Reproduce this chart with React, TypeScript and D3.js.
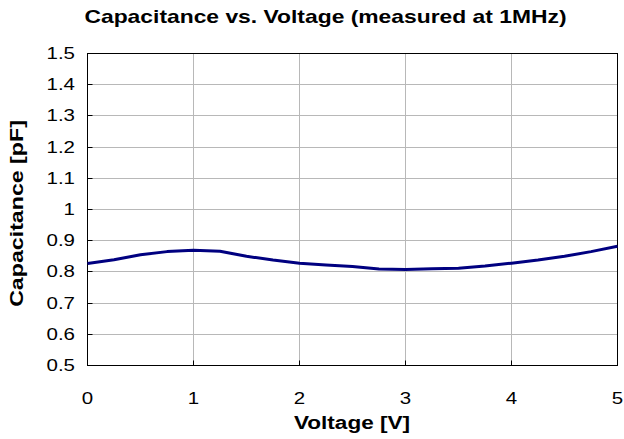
import React from "react";
import * as d3 from "d3";

const voltages = [0, 0.25, 0.5, 0.75, 1, 1.25, 1.5, 1.75, 2, 2.25, 2.5, 2.75, 3, 3.25, 3.5, 3.75, 4, 4.25, 4.5, 4.75, 5];
const capacitance = [
  0.827, 0.839, 0.855, 0.865, 0.869, 0.866, 0.85, 0.838, 0.828, 0.822, 0.817, 0.809, 0.808, 0.81, 0.812, 0.819,
  0.828, 0.838, 0.85, 0.865, 0.882,
];
const xTicks = [0, 1, 2, 3, 4, 5];
const yTicks = [0.5, 0.6, 0.7, 0.8, 0.9, 1, 1.1, 1.2, 1.3, 1.4, 1.5];

const W = 624;
const H = 439;
const font = "Arial, 'Liberation Sans', sans-serif";
const SX = 1.28; // reference text is drawn wide

const App = () => {
  const x = d3.scaleLinear().domain([0, 5]).range([87.5, 617.5]);
  const y = d3.scaleLinear().domain([0.5, 1.5]).range([365.5, 53.5]);
  const crisp = (v: number) => Math.round(v - 0.5) + 0.5;

  const line = d3
    .line<number>()
    .x((d, i) => x(voltages[i]))
    .y((d) => y(d))
    .curve(d3.curveLinear);

  const [x0, x1] = x.range();
  const [y0, y1] = y.range();

  return (
    <svg width={W} height={H} style={{ position: "absolute", left: 0, top: 0, background: "#fff" }}>
      <rect x={0} y={0} width={W} height={H} fill="#fff" />

      {/* grid */}
      {xTicks.slice(1, -1).map((t) => (
        <line key={"gx" + t} x1={crisp(x(t))} x2={crisp(x(t))} y1={y1} y2={y0} stroke="#b8b8b8" strokeWidth={1} />
      ))}
      {yTicks.slice(1, -1).map((t) => (
        <line key={"gy" + t} x1={x0} x2={x1} y1={crisp(y(t))} y2={crisp(y(t))} stroke="#b8b8b8" strokeWidth={1} />
      ))}

      {/* frame */}
      <rect x={x0} y={crisp(y1)} width={x1 - x0} height={crisp(y0) - crisp(y1)} fill="none" stroke="#000" strokeWidth={1} />

      {/* inner ticks */}
      {xTicks.map((t) => (
        <line key={"tx" + t} x1={crisp(x(t))} x2={crisp(x(t))} y1={crisp(y0)} y2={crisp(y0) - 5} stroke="#000" />
      ))}
      {yTicks.map((t) => (
        <line key={"ty" + t} x1={x0} x2={x0 + 5} y1={crisp(y(t))} y2={crisp(y(t))} stroke="#000" />
      ))}

      {/* series */}
      <path d={line(capacitance) || ""} fill="none" stroke="#000080" strokeWidth={3} strokeLinejoin="round" />

      {/* tick labels */}
      <g fontFamily={font} fontSize={16} fill="#000">
        {yTicks.map((t) => (
          <text key={"ly" + t} transform={`translate(75,${y(t) + 5.5}) scale(${SX},1)`} textAnchor="end">
            {d3.format("")(+t.toFixed(1))}
          </text>
        ))}
        {xTicks.map((t) => (
          <text key={"lx" + t} transform={`translate(${x(t)},404) scale(${SX},1)`} textAnchor="middle">
            {t}
          </text>
        ))}
      </g>

      {/* titles */}
      <g fontFamily={font} fontWeight="bold" fill="#000">
        <text transform={`translate(325.5,23) scale(1.27,1)`} textAnchor="middle" fontSize={18}>
          Capacitance vs. Voltage (measured at 1MHz)
        </text>
        <text transform={`translate(352,429) scale(1.22,1)`} textAnchor="middle" fontSize={18.5}>
          Voltage [V]
        </text>
        <text transform={`translate(23,213.5) rotate(-90) scale(1.22,1)`} textAnchor="middle" fontSize={19}>
          Capacitance [pF]
        </text>
      </g>
    </svg>
  );
};

export default App;
